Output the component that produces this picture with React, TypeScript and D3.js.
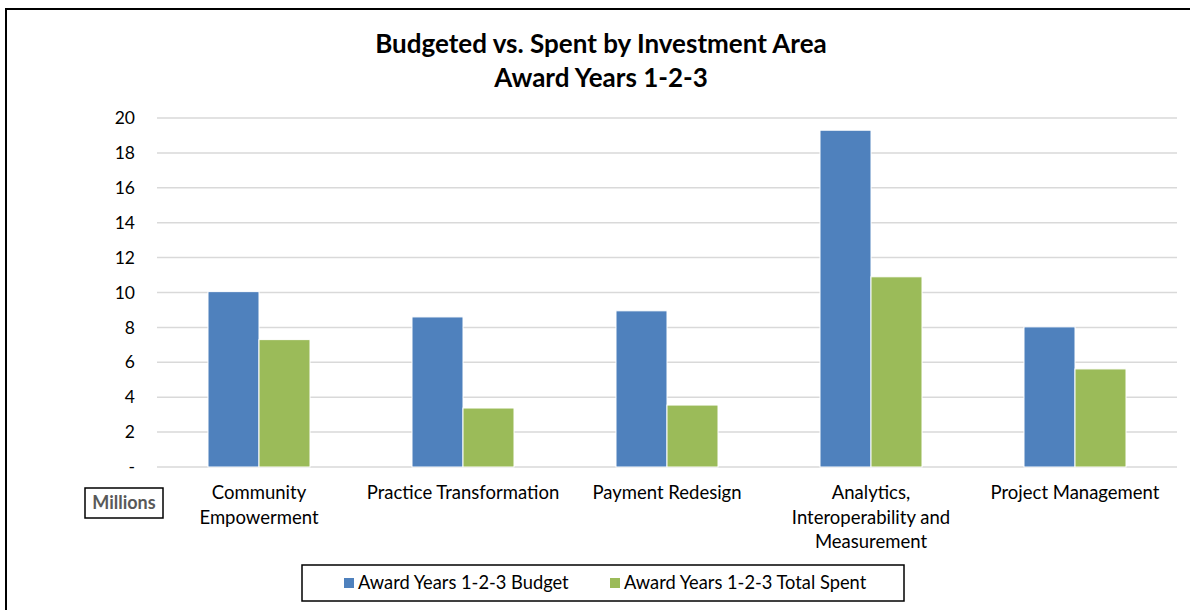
import React from "react";
import * as d3 from "d3";

const categories = [
  "Community Empowerment",
  "Practice Transformation",
  "Payment Redesign",
  "Analytics, Interoperability and Measurement",
  "Project Management",
];
// wrapped the way the original axis wraps them
const categoryLines = [
  ["Community", "Empowerment"],
  ["Practice Transformation"],
  ["Payment Redesign"],
  ["Analytics,", "Interoperability and", "Measurement"],
  ["Project Management"],
];
const budget = [10.05, 8.6, 8.95, 19.3, 8.03];
const spent = [7.3, 3.38, 3.55, 10.9, 5.62];
const seriesNames = ["Award Years 1-2-3 Budget", "Award Years 1-2-3 Total Spent"];
const yTicks = [0, 2, 4, 6, 8, 10, 12, 14, 16, 18, 20];

const colors = ["#4F81BD", "#9BBB59"];
const font = "Lato, 'Open Sans', sans-serif";

const App = () => {
  const ref = React.useRef<SVGSVGElement>(null);

  React.useEffect(() => {
    const svg = d3.select(ref.current);
    svg.selectAll("*").remove();

    const margin = { left: 157, right: 1177, top: 118, bottom: 467 };

    // outer frame (runs off the right/bottom edge like the screenshot)
    svg.append("rect")
      .attr("x", 6).attr("y", 9)
      .attr("width", 1200).attr("height", 620)
      .attr("fill", "#fff").attr("stroke", "#000").attr("stroke-width", 2);

    // title
    const title = svg.append("text")
      .attr("text-anchor", "middle")
      .attr("font-family", font)
      .attr("font-weight", "bold")
      .attr("font-size", 26)
      .attr("fill", "#000");
    title.append("tspan").attr("x", 601).attr("y", 53).text("Budgeted vs. Spent by Investment Area");
    title.append("tspan").attr("x", 601).attr("y", 87).text("Award Years 1-2-3");

    const x = d3.scaleBand()
      .domain(categories)
      .range([margin.left, margin.right]);

    // Excel-style gap: bars fill half of each category slot
    const xInner = d3.scaleBand()
      .domain(seriesNames)
      .range([0, x.bandwidth()])
      .paddingOuter(1);

    const y = d3.scaleLinear()
      .domain([0, 20])
      .range([margin.bottom, margin.top]);

    // gridlines
    svg.append("g")
      .selectAll("line")
      .data(yTicks)
      .join("line")
      .attr("x1", margin.left)
      .attr("x2", margin.right)
      .attr("y1", (d) => y(d))
      .attr("y2", (d) => y(d))
      .attr("stroke", "#d9d9d9")
      .attr("stroke-width", 1.5);

    // y labels, zero shows as a dash
    svg.append("g")
      .selectAll("text")
      .data(yTicks)
      .join("text")
      .attr("x", 135)
      .attr("y", (d) => y(d))
      .attr("dy", "0.35em")
      .attr("text-anchor", "end")
      .attr("font-family", font)
      .attr("font-size", 17.5)
      .attr("fill", "#000")
      .text((d) => (d === 0 ? "-" : d));

    // bars
    const rows = categories.map((c, i) => ({ cat: c, vals: [budget[i], spent[i]] }));
    const groups = svg.append("g")
      .selectAll("g")
      .data(rows)
      .join("g")
      .attr("transform", (d) => `translate(${x(d.cat)},0)`);

    groups.selectAll("rect")
      .data((d) => d.vals.map((v, k) => ({ v, k })))
      .join("rect")
      .attr("x", (d) => xInner(seriesNames[d.k])!)
      .attr("y", (d) => y(d.v))
      .attr("width", xInner.bandwidth())
      .attr("height", (d) => y(0) - y(d.v))
      .attr("fill", (d) => colors[d.k])
      .attr("stroke", "#fff")
      .attr("stroke-width", 1);

    // category labels
    const catText = svg.append("g")
      .selectAll("text")
      .data(categories)
      .join("text")
      .attr("text-anchor", "middle")
      .attr("font-family", font)
      .attr("font-size", 18.5)
      .attr("fill", "#000");
    catText.each(function (d, i) {
      const t = d3.select(this);
      categoryLines[i].forEach((line, j) => {
        t.append("tspan")
          .attr("x", x(d)! + x.bandwidth() / 2)
          .attr("y", 499 + j * 24.5)
          .text(line);
      });
    });

    // "Millions" unit box
    svg.append("rect")
      .attr("x", 85).attr("y", 488).attr("width", 78).attr("height", 30)
      .attr("fill", "#fff").attr("stroke", "#000").attr("stroke-width", 1.5);
    svg.append("text")
      .attr("x", 124).attr("y", 503)
      .attr("dy", "0.35em")
      .attr("text-anchor", "middle")
      .attr("font-family", font)
      .attr("font-weight", "bold")
      .attr("font-size", 18)
      .attr("fill", "#595959")
      .text("Millions");

    // legend
    svg.append("rect")
      .attr("x", 302).attr("y", 565).attr("width", 602).attr("height", 36)
      .attr("fill", "#fff").attr("stroke", "#000").attr("stroke-width", 1.5);
    const legendX = [344, 610];
    const legend = svg.append("g")
      .selectAll("g")
      .data(seriesNames)
      .join("g")
      .attr("transform", (_, i) => `translate(${legendX[i]},583)`);
    legend.append("rect")
      .attr("x", 0).attr("y", -5).attr("width", 10).attr("height", 10)
      .attr("fill", (_, i) => colors[i]);
    legend.append("text")
      .attr("x", 14)
      .attr("dy", "0.35em")
      .attr("font-family", font)
      .attr("font-size", 18.3)
      .attr("fill", "#000")
      .text((d) => d);
  }, []);

  return <svg ref={ref} width={1190} height={610} style={{ display: "block", position: "absolute", left: 0, top: 0 }}></svg>;
};

export default App;
